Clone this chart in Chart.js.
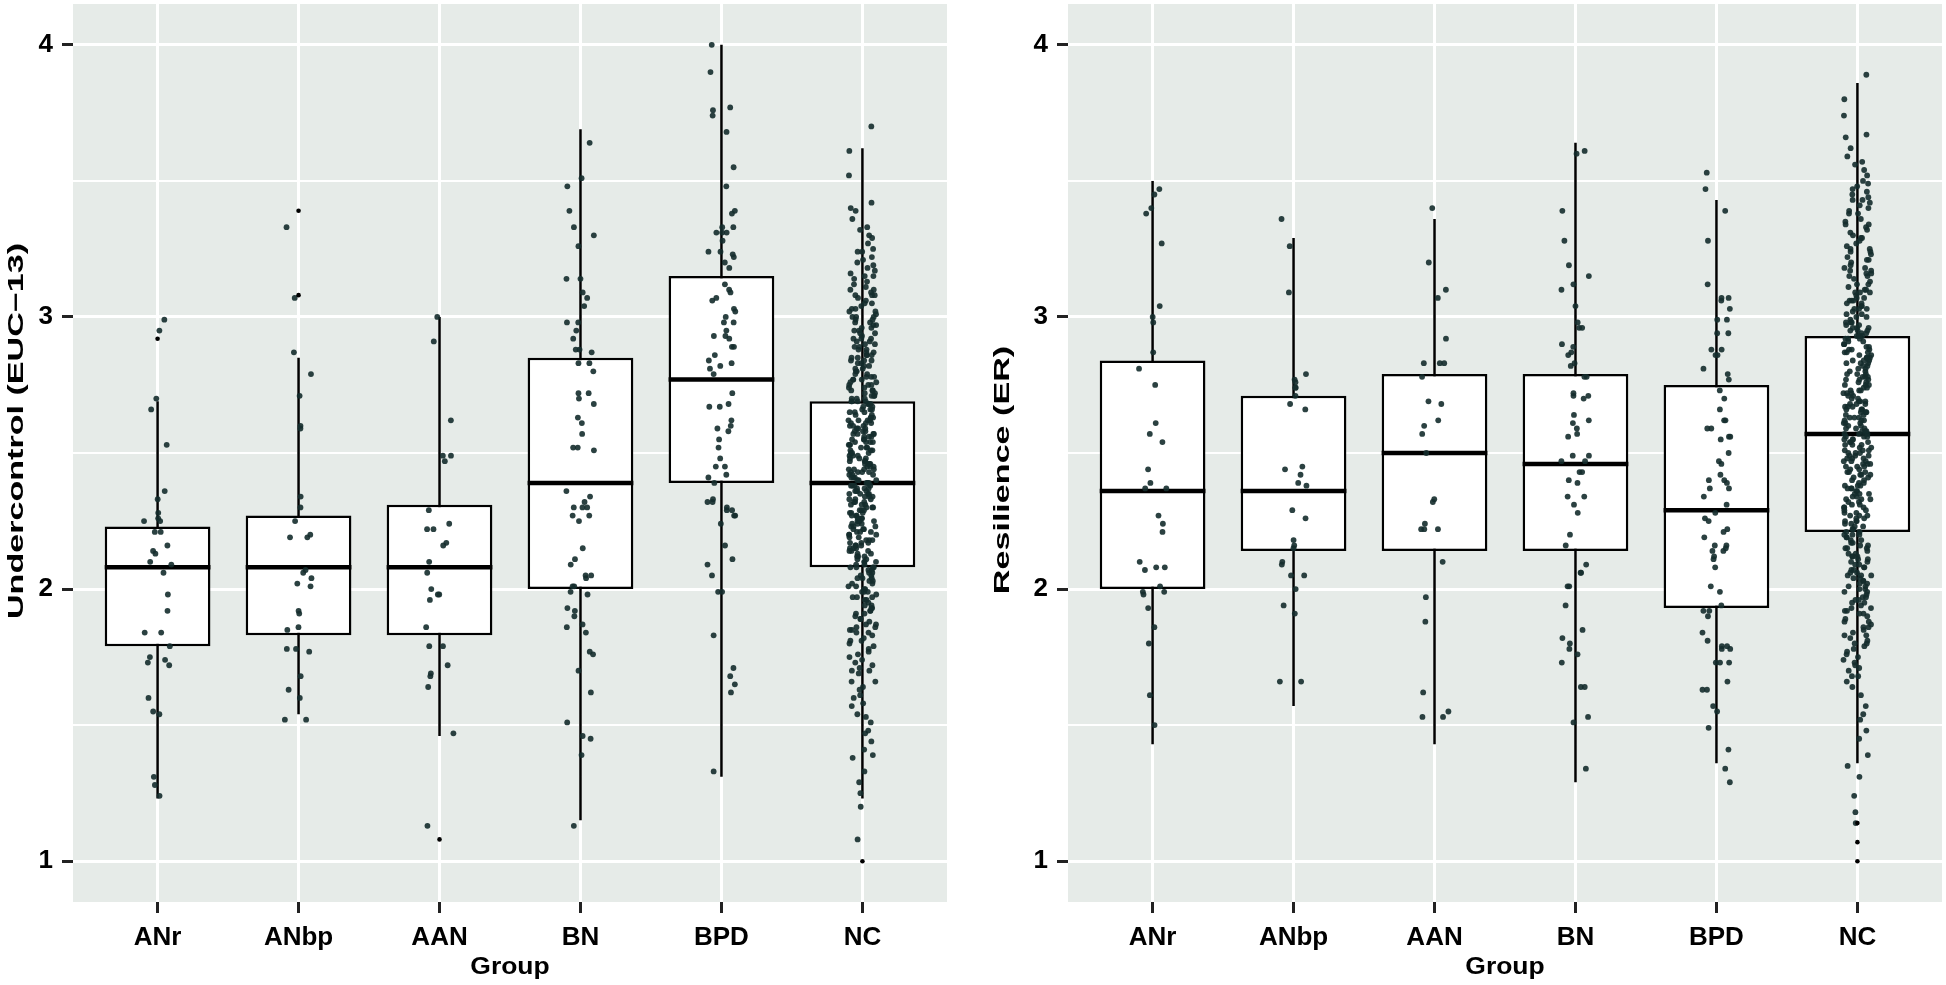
<!DOCTYPE html>
<html>
<head>
<meta charset="utf-8">
<script src="https://cdn.jsdelivr.net/npm/chart.js@4.4.1/dist/chart.umd.min.js"></script>
<style>
  html, body { margin: 0; padding: 0; background: #fff; }
  #wrap { position: relative; width: 1946px; height: 985px; }
  canvas { position: absolute; top: 0; }
  #left { left: 0; }
  #right { left: 960px; }
</style>
</head>
<body>
<div id="wrap">
  <canvas id="left" width="951" height="985"></canvas>
  <canvas id="right" width="986" height="985"></canvas>
</div>
<script>
const groups = ['ANr', 'ANbp', 'AAN', 'BN', 'BPD', 'NC'];
const yTicks = [1, 1.5, 2, 2.5, 3, 3.5, 4];

// box stats, left panel (Undercontrol): whisker low, Q1, median, Q3, whisker high
const eucLow = [1.23, 1.54, 1.46, 1.15, 1.31, 1.23];
const eucQ1 = [1.79, 1.83, 1.83, 2.00, 2.39, 2.08];
const eucMed = [2.08, 2.08, 2.08, 2.39, 2.77, 2.39];
const eucQ3 = [2.23, 2.27, 2.31, 2.85, 3.15, 2.69];
const eucHigh = [2.69, 2.85, 3.00, 3.69, 4.00, 3.62];
const eucOutliers = [[2.92], [3.39, 3.08], [1.08], [], [], [1.00]];

// box stats, right panel (Resilience)
const erLow = [1.43, 1.57, 1.43, 1.29, 1.36, 1.36];
const erQ1 = [2.00, 2.14, 2.14, 2.14, 1.93, 2.21];
const erMed = [2.36, 2.36, 2.50, 2.46, 2.29, 2.57];
const erQ3 = [2.84, 2.71, 2.79, 2.79, 2.75, 2.93];
const erHigh = [3.50, 3.29, 3.36, 3.64, 3.43, 3.86];
const erOutliers = [[], [], [], [], [], [1.14, 1.07, 1.00]];

// jittered observations, left panel
const eucANr = [2.99,2.95,2.70,2.66,2.53,2.36,2.33,2.28,2.26,2.25,2.25,2.21,2.21,2.16,2.14,2.13,2.10,2.09,2.06,1.98,1.92,1.84,1.84,1.79,1.75,1.74,1.73,1.72,1.60,1.55,1.54,1.31,1.28,1.24];
const eucANbp = [3.33,3.07,2.87,2.79,2.71,2.60,2.59,2.34,2.30,2.25,2.20,2.19,2.19,2.07,2.06,2.04,2.02,2.01,1.92,1.91,1.86,1.85,1.78,1.78,1.77,1.68,1.63,1.60,1.52,1.52];
const eucAAN = [3.00,2.91,2.62,2.49,2.49,2.47,2.29,2.24,2.22,2.22,2.17,2.16,2.10,2.06,2.00,1.98,1.98,1.96,1.86,1.79,1.79,1.72,1.69,1.68,1.64,1.47,1.13];
const eucBN = [3.64,3.51,3.48,3.39,3.33,3.30,3.26,3.14,3.14,3.09,3.07,3.04,2.98,2.98,2.95,2.92,2.88,2.88,2.87,2.83,2.83,2.80,2.72,2.72,2.70,2.68,2.63,2.61,2.57,2.52,2.52,2.51,2.36,2.34,2.32,2.30,2.30,2.30,2.27,2.27,2.25,2.15,2.11,2.09,2.05,2.05,2.04,2.01,2.01,1.99,1.98,1.93,1.92,1.90,1.87,1.86,1.84,1.77,1.76,1.70,1.62,1.51,1.46,1.45,1.39,1.13];
const eucBPD = [4.00,3.90,3.77,3.76,3.74,3.68,3.55,3.48,3.39,3.38,3.33,3.33,3.31,3.31,3.31,3.28,3.24,3.24,3.23,3.22,3.20,3.18,3.12,3.10,3.09,3.07,3.06,3.03,3.02,3.00,2.98,2.98,2.95,2.93,2.93,2.92,2.89,2.89,2.86,2.84,2.83,2.82,2.81,2.79,2.72,2.68,2.67,2.67,2.62,2.60,2.59,2.58,2.55,2.52,2.48,2.45,2.45,2.42,2.41,2.39,2.33,2.32,2.32,2.30,2.29,2.29,2.27,2.27,2.24,2.16,2.11,2.09,2.05,1.99,1.99,1.83,1.71,1.68,1.65,1.62,1.33];
const eucNC = [3.70,3.61,3.52,3.42,3.40,3.39,3.36,3.33,3.32,3.30,
  3.29,3.27,3.25,3.24,3.22,3.20,3.19,3.18,3.17,3.15,3.15,3.14,3.12,3.11,3.10,3.10,
  3.09,3.08,3.08,3.07,3.06,3.05,3.04,3.03,3.03,3.02,3.01,3.00,3.00,3.00,
  2.99,2.98,2.98,2.97,2.96,2.95,2.95,2.94,2.93,2.92,2.92,2.91,2.90,2.90,2.92,2.96,
  2.89,2.88,2.88,2.87,2.86,2.86,2.85,2.85,2.84,2.83,2.82,2.82,2.81,2.80,2.80,2.84,2.87,2.83,
  2.79,2.78,2.78,2.77,2.77,2.76,2.75,2.75,2.74,2.73,2.73,2.72,2.71,2.71,2.70,2.70,2.76,2.74,2.72,2.78,
  2.69,2.69,2.68,2.67,2.67,2.66,2.65,2.65,2.64,2.63,2.63,2.62,2.62,2.61,2.61,2.60,2.60,2.68,2.66,2.64,2.62,2.69,
  2.59,2.59,2.58,2.57,2.57,2.56,2.55,2.55,2.54,2.54,2.53,2.52,2.52,2.51,2.50,2.50,2.58,2.56,2.53,2.51,2.54,2.57,
  2.49,2.48,2.48,2.47,2.46,2.46,2.45,2.45,2.44,2.43,2.43,2.42,2.42,2.41,2.40,2.40,2.47,2.44,2.41,2.46,2.49,2.43,
  2.39,2.39,2.38,2.38,2.37,2.36,2.36,2.35,2.34,2.34,2.33,2.32,2.32,2.31,2.30,2.30,2.37,2.35,2.33,2.31,2.38,2.35,
  2.29,2.28,2.28,2.27,2.26,2.26,2.25,2.24,2.24,2.23,2.22,2.22,2.21,2.20,2.20,2.27,2.25,2.23,2.21,2.29,
  2.19,2.18,2.18,2.17,2.16,2.15,2.15,2.14,2.13,2.12,2.12,2.11,2.10,2.10,2.17,2.14,2.11,2.16,
  2.09,2.08,2.08,2.07,2.06,2.05,2.04,2.04,2.03,2.02,2.01,2.00,2.00,2.06,2.03,2.08,
  1.99,1.98,1.97,1.96,1.95,1.94,1.93,1.92,1.92,1.91,1.90,1.97,1.94,1.99,
  1.89,1.88,1.87,1.86,1.85,1.85,1.84,1.83,1.82,1.81,1.80,1.87,
  1.79,1.77,1.76,1.75,1.73,1.72,1.71,1.70,1.69,1.66,1.64,1.63,1.61,1.60,
  1.58,1.57,1.54,1.53,1.51,1.48,1.47,1.44,1.41,1.39,1.38,1.33,1.29,1.25,1.20,1.08,
  3.24,3.21,3.16,3.13,3.08,3.05,3.02,2.99,2.97,2.94,2.91,2.89,2.86,2.84,2.81,2.79,2.77,2.75,2.73,2.71,
  2.69,2.68,2.66,2.65,2.63,2.61,2.60,2.59,2.57,2.56,2.55,2.53,2.52,2.51,2.49,2.48,2.47,2.45,2.44,2.43,
  2.42,2.40,2.39,2.38,2.37,2.36,2.34,2.33,2.32,2.31,2.29,2.28,2.27,2.26,2.24,2.23,2.22,2.21,2.19,2.18,
  2.17,2.15,2.14,2.13,2.12,2.10,2.09,2.08,2.07,2.05,2.04,2.02,2.01,1.99,1.97,1.96,1.93,1.91,1.89,1.86,
  1.84,1.81,1.78,1.74,1.70,1.66,2.58,2.46,2.35,2.25,2.62,2.41,2.30,2.50,2.70,2.20,2.16,2.54,2.44,2.36];

// jittered observations, right panel
const erANr = [3.47,3.45,3.40,3.38,3.27,3.04,3.00,2.98,2.87,2.81,2.75,2.61,2.57,2.54,2.44,2.39,2.37,2.37,2.27,2.24,2.21,2.10,2.08,2.08,2.07,2.01,1.99,1.99,1.98,1.93,1.86,1.80,1.61,1.50];
const erANbp = [3.36,3.26,3.09,2.79,2.77,2.76,2.74,2.74,2.71,2.68,2.66,2.45,2.44,2.42,2.39,2.38,2.29,2.26,2.18,2.16,2.15,2.10,2.09,2.05,2.05,2.00,1.94,1.91,1.66,1.66];
const erAAN = [3.40,3.20,3.10,3.07,2.92,2.83,2.83,2.83,2.78,2.69,2.68,2.62,2.60,2.57,2.50,2.33,2.32,2.24,2.22,2.22,2.22,2.10,1.97,1.88,1.62,1.55,1.53,1.53];
const erBN = [3.61,3.60,3.39,3.28,3.19,3.15,3.12,3.10,3.04,2.98,2.96,2.96,2.90,2.89,2.87,2.86,2.83,2.82,2.78,2.78,2.72,2.71,2.71,2.70,2.64,2.62,2.61,2.59,2.57,2.56,2.49,2.49,2.47,2.47,2.43,2.43,2.40,2.39,2.34,2.34,2.31,2.28,2.20,2.16,2.09,2.06,2.06,2.01,2.01,1.94,1.85,1.82,1.80,1.78,1.76,1.73,1.64,1.64,1.53,1.51,1.34];
const erBPD = [3.53,3.47,3.39,3.28,3.12,3.07,3.07,3.06,3.03,2.99,2.99,2.94,2.94,2.88,2.88,2.86,2.86,2.81,2.79,2.77,2.73,2.70,2.66,2.62,2.62,2.59,2.59,2.56,2.56,2.55,2.50,2.47,2.46,2.42,2.40,2.40,2.39,2.37,2.37,2.34,2.31,2.28,2.26,2.25,2.22,2.21,2.19,2.16,2.16,2.15,2.14,2.14,2.12,2.11,2.08,2.01,1.99,1.94,1.92,1.92,1.90,1.84,1.81,1.79,1.79,1.78,1.78,1.73,1.73,1.73,1.66,1.63,1.63,1.57,1.55,1.49,1.41,1.34,1.29];
const erNC = [3.89,3.80,3.74,3.67,3.66,3.62,3.59,3.57,3.56,3.54,3.52,3.50,
  3.49,3.48,3.46,3.45,3.44,3.43,3.42,3.41,3.40,
  3.39,3.38,3.36,3.35,3.34,3.33,3.32,3.31,3.30,
  3.29,3.28,3.27,3.26,3.25,3.24,3.23,3.22,3.21,3.20,
  3.19,3.18,3.17,3.17,3.16,3.15,3.14,3.13,3.12,3.11,3.10,3.10,
  3.09,3.09,3.08,3.07,3.06,3.06,3.05,3.04,3.04,3.03,3.02,3.01,3.00,3.00,3.07,3.03,
  2.99,2.98,2.98,2.97,2.96,2.96,2.95,2.94,2.94,2.93,2.92,2.92,2.91,2.90,2.90,2.97,2.95,2.93,
  2.89,2.88,2.88,2.87,2.86,2.86,2.85,2.84,2.84,2.83,2.82,2.82,2.81,2.80,2.80,2.87,2.85,2.83,
  2.79,2.78,2.78,2.77,2.76,2.76,2.75,2.74,2.74,2.73,2.72,2.72,2.71,2.70,2.70,2.77,2.75,2.73,2.79,
  2.69,2.68,2.68,2.67,2.66,2.66,2.65,2.64,2.64,2.63,2.62,2.62,2.61,2.60,2.60,2.67,2.65,2.63,2.61,2.69,
  2.59,2.58,2.58,2.57,2.56,2.56,2.55,2.54,2.54,2.53,2.52,2.52,2.51,2.50,2.50,2.57,2.55,2.53,2.51,2.59,
  2.49,2.48,2.48,2.47,2.46,2.46,2.45,2.44,2.44,2.43,2.42,2.42,2.41,2.40,2.40,2.47,2.45,2.43,2.49,
  2.39,2.38,2.38,2.37,2.36,2.36,2.35,2.34,2.34,2.33,2.32,2.32,2.31,2.30,2.30,2.37,2.35,2.33,
  2.29,2.28,2.28,2.27,2.26,2.26,2.25,2.24,2.24,2.23,2.22,2.22,2.21,2.20,2.20,2.27,2.25,
  2.19,2.18,2.18,2.17,2.16,2.15,2.15,2.14,2.13,2.12,2.12,2.11,2.10,2.10,2.16,
  2.09,2.08,2.08,2.07,2.06,2.05,2.05,2.04,2.03,2.02,2.02,2.01,2.00,2.00,2.06,
  1.99,1.98,1.97,1.96,1.95,1.94,1.93,1.92,1.92,1.91,1.90,1.96,
  1.89,1.88,1.87,1.86,1.85,1.84,1.83,1.82,1.81,1.80,
  1.79,1.78,1.76,1.75,1.73,1.72,1.70,1.68,1.66,1.64,1.61,
  1.57,1.54,1.52,1.48,1.45,1.39,1.35,1.31,1.24,1.18,1.14,
  3.47,3.43,3.38,3.34,3.29,3.25,3.21,3.18,3.15,3.12,3.09,3.06,3.03,3.01,2.98,2.95,2.93,2.91,2.89,2.87,
  2.85,2.83,2.81,2.79,2.77,2.75,2.73,2.71,2.69,2.67,2.65,2.63,2.61,2.59,2.57,2.55,2.53,2.51,2.49,2.47,
  2.45,2.43,2.41,2.39,2.37,2.35,2.33,2.31,2.29,2.27,2.25,2.23,2.21,2.19,2.17,2.15,2.13,2.11,2.09,2.07,
  2.05,2.03,2.01,1.99,1.97,1.95,1.93,1.91,1.88,1.86,1.83,1.80,1.77,1.74,1.71,1.68,2.62,2.58,2.54,2.50,
  2.46,2.72,2.68,2.84,2.96,3.05,2.42,2.38,2.30,2.20,2.12,2.04,2.66,2.56,2.48,2.92,3.16,3.24,2.78,2.88];

const eucPoints = [eucANr, eucANbp, eucAAN, eucBN, eucBPD, eucNC];
const erPoints = [erANr, erANbp, erAAN, erBN, erBPD, erNC];

const FONT = 'Liberation Sans, Arial, sans-serif';
const BG = '#e6ebe8';

// fixed horizontal spread for the jittered dots (+-0.1 group width)
function jitter(i, g) {
  const s = Math.sin((i + 1) * 12.9898 + (g + 1) * 78.233) * 43758.5453;
  return (s - Math.floor(s) - 0.5) * 0.2;
}

const panelBg = {
  id: 'panelBg',
  beforeDraw(chart) {
    const { ctx, chartArea: a } = chart;
    ctx.save();
    ctx.fillStyle = BG;
    ctx.fillRect(a.left, a.top, a.right - a.left, a.bottom - a.top);
    ctx.restore();
  }
};

// axis titles: the source figure has them drawn stretched, so draw them by hand
const axisTitles = {
  id: 'axisTitles',
  afterDraw(chart, args, opts) {
    const { ctx, chartArea: a } = chart;
    ctx.save();
    ctx.fillStyle = '#000';
    ctx.textAlign = 'center';
    ctx.textBaseline = 'middle';
    ctx.font = 'bold 23px ' + FONT;
    ctx.translate((a.left + a.right) / 2, chart.height - 17);
    ctx.scale(1.15, 1);
    ctx.fillText(opts.x, 0, 0);
    ctx.restore();

    ctx.save();
    ctx.fillStyle = '#000';
    ctx.textAlign = 'center';
    ctx.textBaseline = 'middle';
    ctx.font = 'bold 22px ' + FONT;
    ctx.translate(opts.yLeft, opts.yMid);
    ctx.rotate(-Math.PI / 2);
    ctx.scale(1.55, 1);
    ctx.fillText(opts.y, 0, 0);
    ctx.restore();
  }
};

function boxChart(id, low, q1, med, q3, high, points, outliers, title, axisWidth, titleX, titleY) {
  const whiskers = [];
  const medians = [];
  const boxes = [];
  const dots = [];
  const outs = [];
  groups.forEach((g, i) => {
    const x = i + 1;
    whiskers.push({ x: x, y: low[i] }, { x: x, y: high[i] }, { x: x + 0.5, y: null });
    medians.push({ x: x - 0.375, y: med[i] }, { x: x + 0.375, y: med[i] }, { x: x + 0.5, y: null });
    boxes.push({ x: x, y: [q1[i], q3[i]] });
    points[i].forEach((v, j) => dots.push({ x: x + jitter(j, i), y: v }));
    outliers[i].forEach(v => outs.push({ x: x, y: v }));
  });

  return new Chart(document.getElementById(id), {
    type: 'scatter',
    data: {
      datasets: [
        {
          type: 'line', data: whiskers, borderColor: '#000', borderWidth: 2.5,
          pointRadius: 0, spanGaps: false, fill: false, order: 4
        },
        {
          type: 'bar', data: boxes, backgroundColor: '#fff', borderColor: '#000',
          borderWidth: 2.5, borderSkipped: false, barPercentage: 0.75,
          categoryPercentage: 1, order: 3
        },
        {
          type: 'line', data: medians, borderColor: '#000', borderWidth: 4.5,
          pointRadius: 0, spanGaps: false, fill: false, order: 2
        },
        {
          data: dots, backgroundColor: 'rgba(20, 44, 44, 0.9)', pointRadius: 2.9,
          borderWidth: 0, order: 1
        },
        {
          data: outs, backgroundColor: '#000', pointRadius: 2.3, borderWidth: 0, order: 0
        }
      ]
    },
    options: {
      responsive: false,
      animation: false,
      events: [],
      layout: { padding: 0 },
      plugins: {
        legend: { display: false },
        tooltip: { enabled: false },
        axisTitles: { x: 'Group', y: title, yLeft: titleX, yMid: titleY }
      },
      scales: {
        x: {
          type: 'linear', min: 0.4, max: 6.6, offset: false,
          afterBuildTicks: s => { s.ticks = groups.map((g, i) => ({ value: i + 1 })); },
          afterFit: s => { s.height = 83; s.paddingLeft = 0; s.paddingRight = 0; },
          ticks: {
            callback: v => groups[v - 1], color: '#000', padding: 9,
            font: { family: FONT, size: 26, weight: 'bold' }, maxRotation: 0
          },
          grid: {
            color: '#fff', lineWidth: 3, offset: false,
            tickColor: '#222', tickLength: 11, tickWidth: 3
          },
          border: { display: false }
        },
        y: {
          type: 'linear', min: 0.85, max: 4.15,
          afterBuildTicks: s => { s.ticks = yTicks.map(v => ({ value: v })); },
          afterFit: s => { s.width = axisWidth; s.paddingTop = 0; s.paddingBottom = 0; },
          ticks: {
            callback: v => (v % 1 === 0 ? String(v) : ''), color: '#000', padding: 9,
            font: { family: FONT, size: 26, weight: 'bold' }
          },
          grid: {
            color: '#fff',
            lineWidth: c => (c.tick && c.tick.value % 1 !== 0 ? 2 : 3),
            tickColor: c => (c.tick && c.tick.value % 1 !== 0 ? 'rgba(0,0,0,0)' : '#222'),
            tickLength: 11, tickWidth: 3
          },
          border: { display: false }
        }
      }
    },
    plugins: [panelBg, axisTitles]
  });
}

boxChart('left', eucLow, eucQ1, eucMed, eucQ3, eucHigh, eucPoints, eucOutliers,
  'Undercontrol (EUC\u221213)', 73, 17, 431);
boxChart('right', erLow, erQ1, erMed, erQ3, erHigh, erPoints, erOutliers,
  'Resilience (ER)', 108, 43, 470);
</script>
</body>
</html>
